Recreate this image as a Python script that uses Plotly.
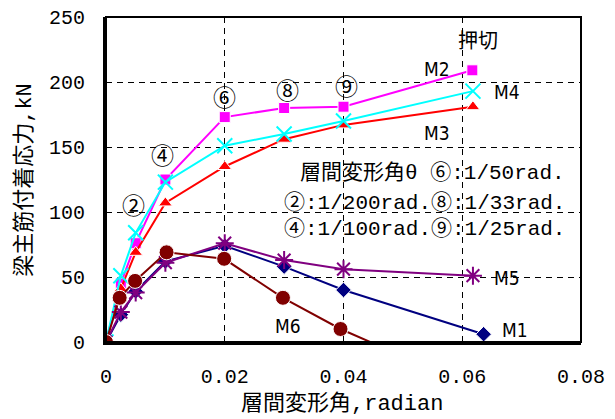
import plotly.graph_objects as go

# ---- data ----
x_std = [0, 0.0025, 0.005, 0.01, 0.02, 0.03, 0.04]

m1_x = x_std + [0.0636]
m1_y = [0, 21, 39, 62, 74, 58, 40, 6]

m2_x = x_std + [0.0617]
m2_y = [0, 45, 76, 125, 173, 180, 181, 209]

m3_x = x_std + [0.0618]
m3_y = [0, 41, 69, 107, 135, 156, 167, 181]

m4_x = x_std + [0.0618]
m4_y = [0, 51, 84, 123, 151, 160, 170, 193]

m5_x = x_std + [0.0618]
m5_y = [0, 23, 38, 61, 76, 63, 56, 51]

m6_x = [0, 0.0023, 0.0049, 0.0102, 0.0199, 0.0298, 0.0395, 0.05]
m6_y = [0, 34, 47, 69, 64, 34, 10, -11]

x_ticks = [0, 0.02, 0.04, 0.06, 0.08]
x_tick_text = ["0", "0.02", "0.04", "0.06", "0.08"]
y_ticks = [0, 50, 100, 150, 200, 250]

MONO = "Liberation Mono, Noto Sans CJK JP, monospace"
CJK = "Noto Sans CJK JP, sans-serif"
NARROW = "DejaVu Sans Condensed, Liberation Sans Narrow, Roboto Condensed, sans-serif"

fig = go.Figure()

def add(xs, ys, color, symbol, size, lw_marker, line_color_marker, name):
    fig.add_trace(go.Scatter(
        x=xs, y=ys, mode="lines+markers", name=name,
        line=dict(color=color, width=2),
        marker=dict(symbol=symbol, size=size, color=color,
                    line=dict(color=line_color_marker, width=lw_marker)),
        showlegend=False,
    ))

add(m1_x, m1_y, "#000080", "diamond", 12, 1, "white", "M1")
add(m2_x, m2_y, "#FF00FF", "square", 11, 1, "white", "M2")
add(m3_x, m3_y, "#FF0000", "triangle-up", 12, 1, "white", "M3")
add(m4_x, m4_y, "#00FFFF", "x-thin-open", 15, 2, "#00FFFF", "M4")
add(m5_x, m5_y, "#800080", "asterisk-open", 15, 2, "#800080", "M5")
add(m6_x, m6_y, "#800000", "circle", 15, 1, "white", "M6")

annotations = []

def txt(x, y, s, size, font=CJK, xanchor="center"):
    annotations.append(dict(x=x, y=y, xref="x", yref="y", text=s, showarrow=False,
                            font=dict(family=font, size=size, color="black"),
                            xanchor=xanchor, yanchor="middle"))

# circled step labels
txt(0.0046, 106, "②", 23)
txt(0.0095, 145, "④", 23)
txt(0.0200, 189, "⑥", 23)
txt(0.0305, 195, "⑧", 23)
txt(0.0405, 198, "⑨", 23)
txt(0.0627, 233, "押切", 20)

# series labels
txt(0.0558, 210, "M2", 19, NARROW)
txt(0.0676, 192, "M4", 19, NARROW)
txt(0.0558, 161, "M3", 19, NARROW)
txt(0.0676, 49, "M5", 19, NARROW)
txt(0.0688, 9, "M1", 19, NARROW)
txt(0.0306, 12, "M6", 19, NARROW)

# legend text block
txt(0.0776, 130, "層間変形角θ ⑥:1/50rad.", 21, MONO, "right")
txt(0.0776, 107, "②:1/200rad.⑧:1/33rad.", 21, MONO, "right")
txt(0.0776, 87, "④:1/100rad.⑨:1/25rad.", 21, MONO, "right")

# axis titles
annotations.append(dict(x=-0.172, y=0.5, xref="paper", yref="paper",
                        text="梁主筋付着応力,kN", textangle=-90, showarrow=False,
                        font=dict(family=MONO, size=22, color="black"),
                        xanchor="center", yanchor="middle"))
annotations.append(dict(x=0.497, y=-0.19, xref="paper", yref="paper",
                        text="層間変形角,radian", showarrow=False,
                        font=dict(family=MONO, size=22, color="black"),
                        xanchor="center", yanchor="middle"))

# page body has an 8px default margin, so the figure is 8px smaller
fig.update_layout(
    width=607, height=411,
    margin=dict(l=98, r=34, t=9, b=77),
    plot_bgcolor="white", paper_bgcolor="white",
    annotations=annotations,
    shapes=[dict(type="rect", xref="paper", yref="paper", x0=0, y0=0, x1=1, y1=1,
                 line=dict(color="black", width=2), layer="above")],
)

fig.update_xaxes(
    range=[0, 0.08], tickvals=x_ticks, ticktext=x_tick_text, automargin=False,
    showgrid=True, gridcolor="black", gridwidth=1, griddash="6px,5px",
    zeroline=False, showline=True, linecolor="black", linewidth=3,
    ticks="inside", ticklen=6, tickcolor="black", tickwidth=1,
    ticklabelstandoff=14, ticklabeloverflow="allow",
    tickfont=dict(family=MONO, size=20, color="black"),
)
fig.update_yaxes(
    range=[0, 250], tickvals=y_ticks, automargin=False,
    showgrid=True, gridcolor="black", gridwidth=1, griddash="6px,5px",
    zeroline=False, showline=True, linecolor="black", linewidth=3,
    ticks="inside", ticklen=6, tickcolor="black", tickwidth=1,
    ticklabelstandoff=14, ticklabeloverflow="allow",
    tickfont=dict(family=MONO, size=20, color="black"),
)

fig.write_html("out.html")
